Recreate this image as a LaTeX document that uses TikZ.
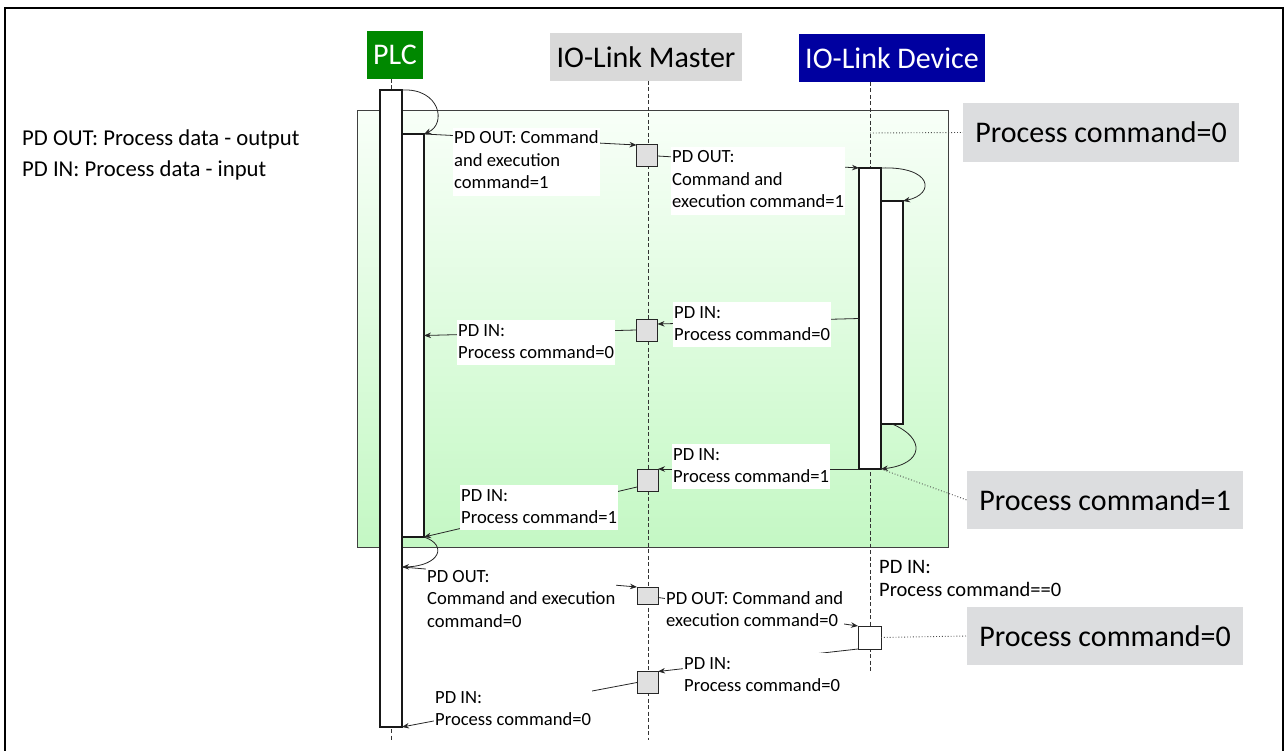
\documentclass[tikz,border=0pt]{standalone}
\usepackage{fontspec}
\setmainfont{Carlito}
\usetikzlibrary{arrows.meta,calc}
\definecolor{plcgreen}{RGB}{0,136,0}
\definecolor{devblue}{RGB}{0,0,160}
\definecolor{mastgray}{RGB}{217,217,217}
\definecolor{boxgray}{RGB}{220,221,223}
\definecolor{sqgray}{RGB}{224,224,224}
\definecolor{grtop}{RGB}{248,255,248}
\definecolor{grbot}{RGB}{196,248,196}
\newcommand\mltext[1]{\begin{tabular}[t]{@{}l@{}}#1\end{tabular}}
\begin{document}
\begin{tikzpicture}[x=1pt,y=-1pt,
  hdr/.style={inner sep=0pt, font=\fontsize{30}{36}\selectfont},
  bigbox/.style={fill=boxgray, inner sep=0pt, minimum width=276, minimum height=58, font=\fontsize{30}{36}\selectfont},
  bar/.style={draw=black!90, fill=white, line width=1.2pt, inner sep=0pt, outer sep=0pt, minimum width=22, anchor=north west},
  sq/.style={draw=black!85, fill=sqgray, line width=1pt, inner sep=0pt, outer sep=0pt, minimum width=21, minimum height=22},
  life/.style={draw=black!80, line width=0.8pt, dash pattern=on 4pt off 2.5pt},
  msg/.style={draw=black!85, line width=0.8pt, -{Stealth[length=7pt,width=5.5pt]}},
  dotl/.style={draw=black!70, line width=0.9pt, dotted},
  lbl/.style={anchor=base west, fill=white, inner xsep=1pt, inner ysep=0pt, font=\fontsize{18.6}{22.5}\selectfont},
  legend/.style={anchor=base west, inner sep=0pt, font=\fontsize{22.7}{26}\selectfont}]
\useasboundingbox (0,0) rectangle (1287,751);
\begin{scope}
\clip (0,0) rectangle (1287,751);
\draw[line width=1.5pt] (5,8) rectangle (1283,780);
\end{scope}

% legend
\node[legend] (lg1) at (22,146) {PD OUT: Process data - output};
\node[legend] (lg2) at (22,177) {PD IN: Process data - input};

% green frame
\shade[top color=grtop, bottom color=grbot] (357,111) rectangle (948,547);
\draw[black!75, line width=1pt] (357,111) rectangle (948,547);

% headers
\node[hdr, fill=plcgreen, text=white, minimum width=56, minimum height=48] (plc) at (395,55) {PLC};
\node[hdr, fill=mastgray, minimum width=192, minimum height=48] (mast) at (646,57) {IO-Link Master};
\node[hdr, fill=devblue, text=white, minimum width=186, minimum height=48] (dev) at (892,58) {IO-Link Device};

% big grey boxes
\node[bigbox, minimum height=59] (pc0a) at (1101,132.5) {Process command=0};
\node[bigbox] (pc1) at (1105,500) {Process command=1};
\node[bigbox] (pc0b) at (1105,636) {Process command=0};

% lifelines
\coordinate (plcL1) at (391,79);
\coordinate (plcL2) at (391,740);
\coordinate (mL1) at (648,81);
\coordinate (mL2) at (648,740);
\coordinate (dL1) at (870,82);
\coordinate (dL2) at (870,672);
\coordinate (dDot) at (870,133);
\draw[life] (plcL1) -- (plcL2);
\draw[life] (mL1) -- (mL2);
\draw[life] (dL1) -- (dL2);

% activation bars
\node[bar, minimum height=637] (plcA) at (380,90) {};
\node[bar, minimum height=403] (plcB) at (402,134) {};
\node[bar, minimum height=301] (devA) at (859,168) {};
\node[bar, minimum height=223] (devB) at (881,201) {};
\coordinate (p567) at (402,567);

% master squares and device square
\node[sq] (sq1) at (647,156) {};
\node[sq] (sq2) at (647,330) {};
\node[sq] (sq3) at (647.5,480) {};
\node[sq, minimum height=17] (sq4) at (647.5,595.5) {};
\node[sq] (sq5) at (647.5,682.5) {};
\node[sq, fill=white, minimum width=23, minimum height=23] (devsq) at (869.5,637.5) {};

% dotted callout lines
\draw[dotl] (dDot) -- (pc0a.west);
\draw[dotl] (devA.south east) -- (pc1.west);
\draw[dotl] (devsq.east) -- (pc0b.west);

% messages
\draw[msg] (plcA.north east) .. controls (440,88) and (447,124) .. (plcB.north east);
\draw[msg] (plcB.north east) -- (sq1.north west);
\draw[msg] (sq1.east) -- (devA.north west);
\draw[msg] (devA.north east) .. controls (932,166) and (936,194) .. (devB.north east);
\draw[msg] (devA.west) -- ($(sq2.north east)+(0,5)$);
\draw[msg] (sq2.west) -- (plcB.east);
\draw[msg] (devB.south) .. controls (926,438) and (924,464) .. (devA.south east);
\draw[msg] (devA.south west) -- (sq3.north east);
\draw[msg] ($(sq3.west)+(0,7)$) -- (plcB.south east);
\draw[msg] (plcB.south east) .. controls (448,545) and (440,566) .. (p567);
\draw[msg] (p567) -- (sq4.north west);
\draw[msg] ($(sq4.east)+(0,2)$) -- (devsq.north west);
\draw[msg] (devsq.south west) -- (sq5.north east);
\draw[msg] (sq5.west) -- (plcA.south east);

% message labels
\node[lbl] (t1) at (453,144) {\mltext{PD OUT: Command\\and execution\\command=1}};
\node[lbl] (t3) at (671,163) {\mltext{PD OUT:\\Command and\\execution command=1}};
\node[lbl] (t5) at (673,318) {\mltext{PD IN:\\Process command=0}};
\node[lbl] (t6) at (457,336) {\mltext{PD IN:\\Process command=0}};
\node[lbl] (t8) at (672,460) {\mltext{PD IN:\\Process command=1}};
\node[lbl] (t9) at (460,501) {\mltext{PD IN:\\Process command=1}};
\node[lbl] (t11) at (426,582) {\mltext{PD OUT:\\Command and execution\\command=0}};
\node[lbl] (t12) at (665,604) {\mltext{PD OUT: Command and\\execution command=0}};
\node[lbl] (t13) at (683,669) {\mltext{PD IN:\\Process command=0}};
\node[lbl] (t14) at (434,703) {\mltext{PD IN:\\Process command=0}};
\node[lbl, font=\fontsize{20.5}{23}\selectfont] (t15) at (878,573) {\mltext{PD IN:\\Process command==0}};
\end{tikzpicture}
\end{document}
